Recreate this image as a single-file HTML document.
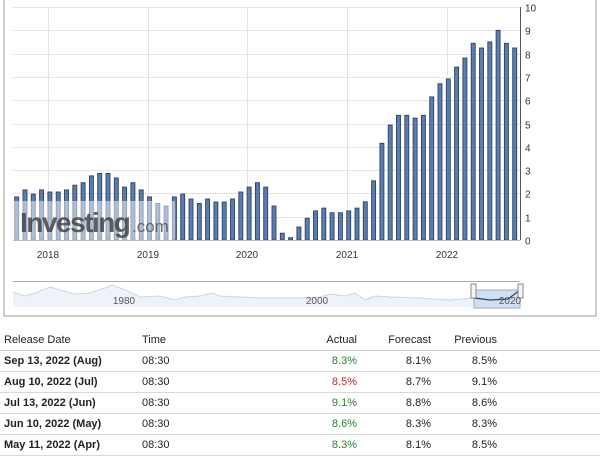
<!DOCTYPE html>
<html><head><meta charset="utf-8"><style>
body{margin:0;background:#fff;width:600px;height:455px;overflow:hidden;font-family:"Liberation Sans",Arial,sans-serif}
svg{position:absolute;left:0;top:0}
table{position:absolute;left:0;top:330px;width:600px;border-collapse:collapse;font-size:11px;color:#222}
td{height:20px;padding:0;border-bottom:1px solid #d8d8d8}
tr:first-child td{height:20px;border-bottom:1px solid #c8c8c8}
.d{padding-left:4px;font-weight:bold;width:138px}
.r{text-align:right}
.g{color:#2e7d32}.rd{color:#b0302a}
</style></head><body>
<svg width="600" height="320" id="s" font-family="Liberation Sans, Arial, sans-serif">
<rect x="4" y="-2" width="592" height="318" fill="none" stroke="#999"/>
<g id="grid" stroke="#e4e4e4" stroke-width="1"></g>
<g id="bars"></g>
<rect x="13" y="201" width="162" height="39" fill="#fff" opacity="0.5"/>
<text x="20" y="232" font-size="28" font-weight="bold" fill="#444" letter-spacing="-1.5" opacity="0.85">Investing</text>
<text x="132" y="232" font-size="17" fill="#555" opacity="0.85">.com</text>
<line x1="13" y1="240.5" x2="520" y2="240.5" stroke="#bbb"/>
<line x1="520.5" y1="7" x2="520.5" y2="240" stroke="#555"/>
<g id="lbl" font-size="10" fill="#333"></g>
<g font-size="10" fill="#333" text-anchor="middle">
<text x="48" y="258">2018</text><text x="148" y="258">2019</text><text x="247" y="258">2020</text><text x="347" y="258">2021</text><text x="447" y="258">2022</text>
</g>
<line x1="13" y1="281.5" x2="520" y2="281.5" stroke="#aaa"/>
<path d="M13 292 L25 296 L38 292 L50 287 L60 290 L75 294 L90 293 L105 288 L112 285 L120 288 L130 292 L140 297 L160 296 L175 300 L185 297 L200 296 L212 293 L220 296 L240 297 L260 298 L300 298 L320 297 L330 294 L345 296 L355 293 L365 300 L375 296 L390 297 L420 298 L450 300 L472 298 L490 300 L508 299 L520 290 L520 307 L13 307Z" fill="#eef3f9" stroke="none"/>
<path d="M13 292 L25 296 L38 292 L50 287 L60 290 L75 294 L90 293 L105 288 L112 285 L120 288 L130 292 L140 297 L160 296 L175 300 L185 297 L200 296 L212 293 L220 296 L240 297 L260 298 L300 298 L320 297 L330 294 L345 296 L355 293 L365 300 L375 296 L390 297 L420 298 L450 300 L472 298" fill="none" stroke="#c5d6ea"/>
<rect x="474" y="290" width="46" height="18" fill="#cfe0f3" stroke="#aab"/>
<path d="M474 298 L490 300 L508 299 L520 290" fill="none" stroke="#345" stroke-width="1.2"/>
<rect x="471" y="284" width="5" height="14" fill="#f4f4f4" stroke="#888"/>
<rect x="518" y="284" width="5" height="14" fill="#f4f4f4" stroke="#888"/>
<g font-size="10" fill="#555" text-anchor="middle"><text x="124" y="304">1980</text><text x="317" y="304">2000</text><text x="510" y="304">2020</text></g>
</svg>
<table>
<tr><td class="d" style="font-weight:normal">Release Date</td><td>Time</td><td class="r" style="width:80px">Actual</td><td class="r" style="width:74px">Forecast</td><td class="r" style="width:66px">Previous</td><td style="width:103px"></td></tr>
<tr><td class="d">Sep 13, 2022 (Aug)</td><td>08:30</td><td class="r g">8.3%</td><td class="r">8.1%</td><td class="r">8.5%</td><td></td></tr>
<tr><td class="d">Aug 10, 2022 (Jul)</td><td>08:30</td><td class="r rd">8.5%</td><td class="r">8.7%</td><td class="r">9.1%</td><td></td></tr>
<tr><td class="d">Jul 13, 2022 (Jun)</td><td>08:30</td><td class="r g">9.1%</td><td class="r">8.8%</td><td class="r">8.6%</td><td></td></tr>
<tr><td class="d">Jun 10, 2022 (May)</td><td>08:30</td><td class="r g">8.6%</td><td class="r">8.3%</td><td class="r">8.3%</td><td></td></tr>
<tr><td class="d">May 11, 2022 (Apr)</td><td>08:30</td><td class="r g">8.3%</td><td class="r">8.1%</td><td class="r">8.5%</td><td></td></tr>
</table>
<script>
var v=[1.85,2.15,1.97,2.15,2.06,2.06,2.15,2.35,2.46,2.75,2.86,2.86,2.66,2.27,2.46,2.15,1.85,1.57,1.46,1.85,1.97,1.76,1.57,1.76,1.63,1.63,1.76,2.06,2.27,2.46,2.27,1.46,0.29,0.1,0.56,0.93,1.25,1.37,1.17,1.17,1.25,1.37,1.64,2.54,4.15,4.93,5.35,5.35,5.23,5.35,6.14,6.71,6.91,7.42,7.81,8.44,8.24,8.5,9.0,8.44,8.24];
var ns="http://www.w3.org/2000/svg",g=document.getElementById('grid'),b=document.getElementById('bars'),l=document.getElementById('lbl');
function el(p,t,a){var e=document.createElementNS(ns,t);for(var k in a)e.setAttribute(k,a[k]);p.appendChild(e);return e;}
for(var k=0;k<=10;k++){var y=Math.round(240-23.3*k)+0.5;el(g,'line',{x1:13,x2:520,y1:y,y2:y});var t=el(l,'text',{x:525,y:y+4});t.textContent=k;}
[48,148,247,347,447].forEach(function(x){el(g,'line',{x1:x+.5,x2:x+.5,y1:7,y2:240});});
v.forEach(function(val,i){var x=16.7+i*8.3,h=val*23.3;el(b,'rect',{x:(x-2).toFixed(1),y:(240-h).toFixed(1),width:4,height:h.toFixed(1),fill:'#5b7cad',stroke:'#2c4266','stroke-width':0.9});});
</script>
</body></html>
